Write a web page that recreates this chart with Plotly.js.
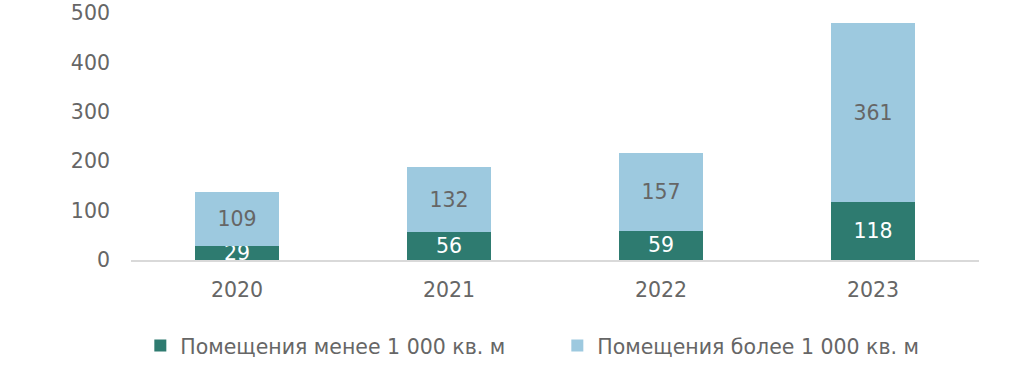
<!DOCTYPE html>
<html><head><meta charset="utf-8">
<script src="https://cdn.plot.ly/plotly-3.0.1.min.js"></script>
<style>html,body{margin:0;padding:0;background:#fff}#c{width:1024px;height:378px}</style>
</head><body><div id="c"></div>
<script>
const years = ['2020', '2021', '2022', '2023'];
const small = [29, 56, 59, 118];
const large = [109, 132, 157, 361];
const nameSmall = 'Помещения менее 1 000 кв. м';
const nameLarge = 'Помещения более 1 000 кв. м';
const yTicks = [0, 100, 200, 300, 400, 500];

const font = 'DejaVu Sans, Verdana, sans-serif';
const gray = '#666666';

const traces = [
  {type: 'bar', x: years, y: small, name: nameSmall,
   marker: {color: '#2E7B70'}, text: small.map(String), textposition: 'inside',
   insidetextanchor: 'middle', constraintext: 'none', cliponaxis: false,
   textfont: {family: font, size: 20.5, color: '#ffffff'}, hoverinfo: 'none'},
  {type: 'bar', x: years, y: large, name: nameLarge,
   marker: {color: '#9DC9DF'}, text: large.map(String), textposition: 'inside',
   insidetextanchor: 'middle', constraintext: 'none',
   textfont: {family: font, size: 20.5, color: gray}, hoverinfo: 'none'}
];

const layout = {
  width: 1024, height: 378,
  margin: {l: 131, r: 45, t: 13, b: 118},
  barmode: 'stack', bargap: 0.6,
  paper_bgcolor: '#fff', plot_bgcolor: '#fff',
  font: {family: font, color: gray, size: 20.5},
  xaxis: {showline: true, linecolor: '#D9D9D9', linewidth: 1.5, showgrid: false,
          ticks: '', ticklabelstandoff: 11, tickfont: {family: font, size: 20.5, color: gray}},
  yaxis: {range: [0, 500], tickvals: yTicks, showgrid: false, zeroline: false,
          showline: false, ticks: '', ticklabelstandoff: 20,
          tickfont: {family: font, size: 20.5, color: gray}},
  showlegend: true,
  legend: {orientation: 'h', x: 0.011, xanchor: 'left', y: -0.347, yanchor: 'middle',
           font: {family: font, size: 20.5, color: gray}, traceorder: 'normal',
           itemwidth: 30, entrywidth: 372}
};

Plotly.newPlot('c', traces, layout, {staticPlot: true});
</script></body></html>
